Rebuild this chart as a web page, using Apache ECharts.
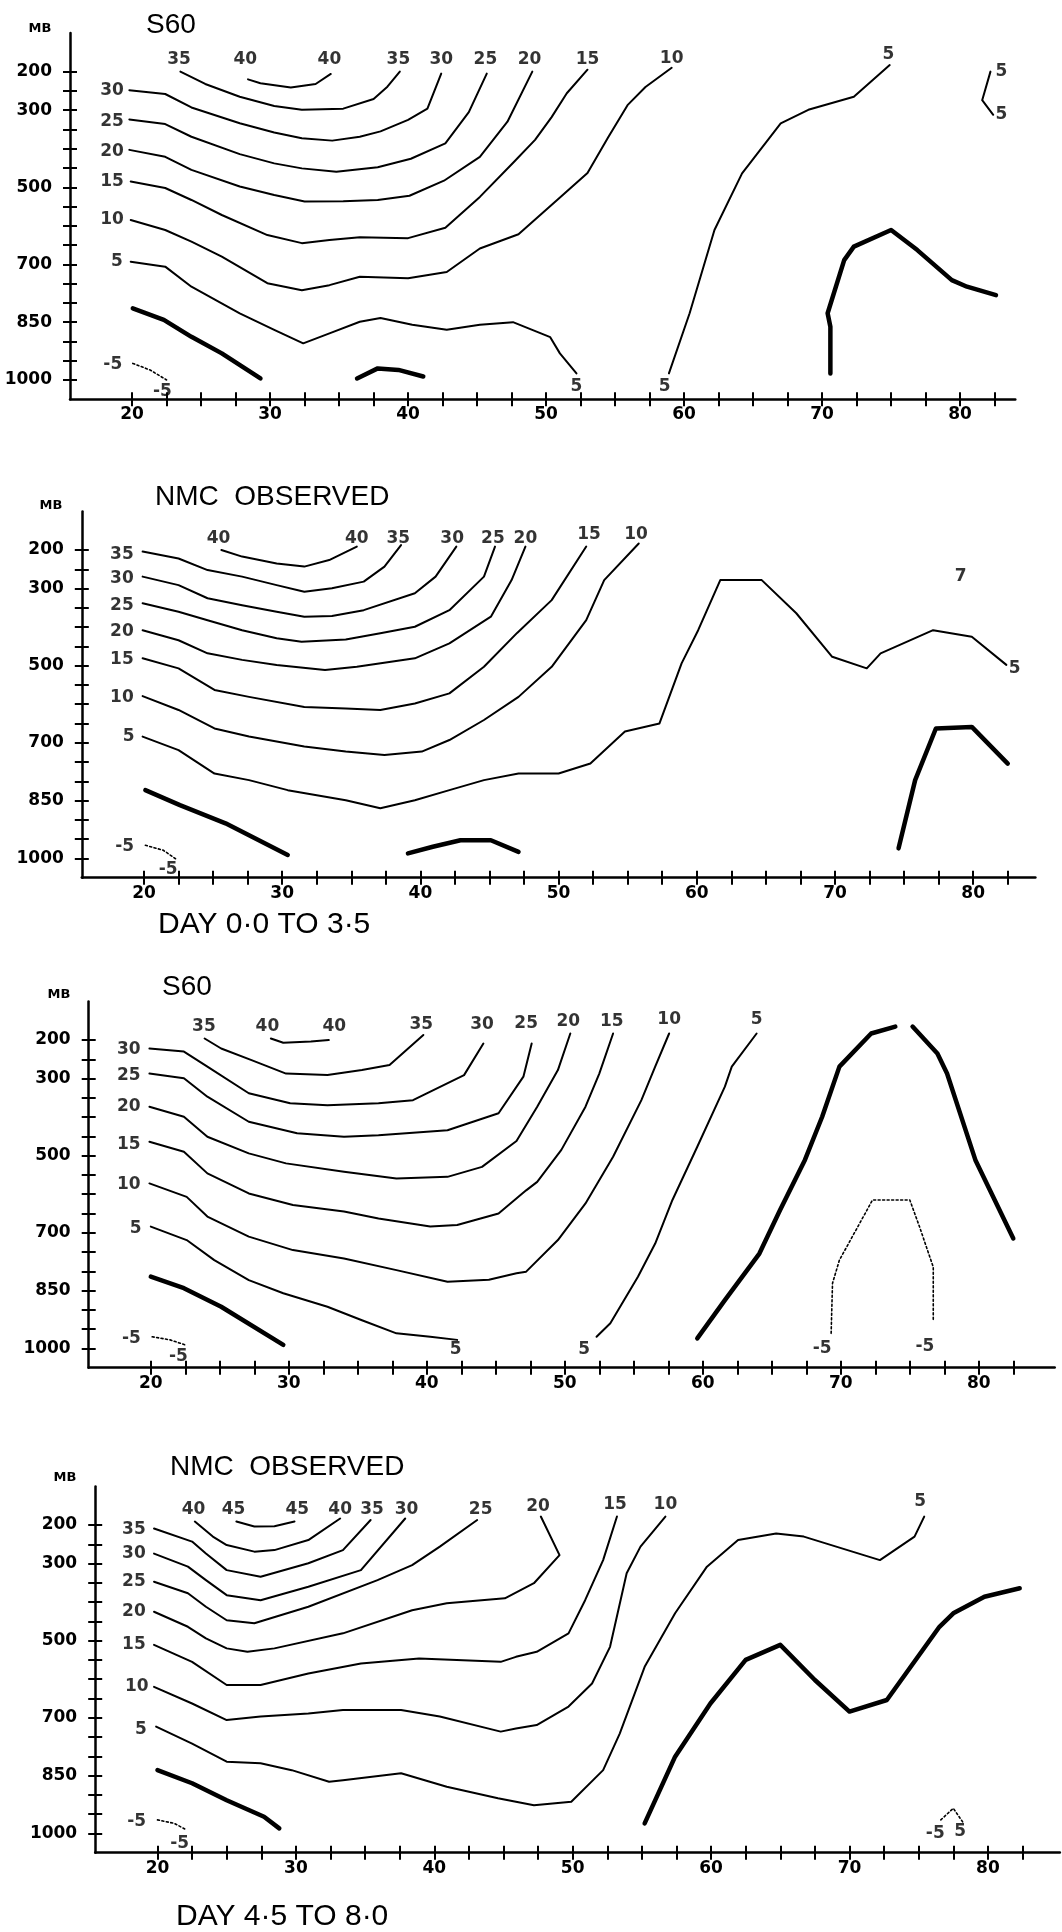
<!DOCTYPE html>
<html><head><meta charset="utf-8">
<script src="https://cdn.jsdelivr.net/npm/echarts@6/dist/echarts.min.js"></script>
<style>html,body{margin:0;padding:0;background:#fff}#c{width:1062px;height:1932px}</style>
</head><body><div id="c"></div>
<script>
// ---------- axis ticks and labels ----------
const latLabels = [20, 30, 40, 50, 60, 70, 80];
const latTicks = [20, 22.5, 25, 27.5, 30, 32.5, 35, 37.5, 40, 42.5, 45, 47.5, 50, 52.5, 55, 57.5, 60, 62.5, 65, 67.5, 70, 72.5, 75, 77.5, 80, 82.5];
const presLabels = [200, 300, 500, 700, 850, 1000];
const presTicks = [200, 250, 300, 350, 400, 450, 500, 550, 600, 650, 700, 750, 800, 850, 900, 950, 1000];

// ---------- Panel 1 : S60, day 0.0-3.5  (lat, mb) ----------
const p1_c40 = [[28.4,220],[29.3,230],[31.5,241],[33.3,232],[34.4,206]];
const p1_c35 = [[23.5,200],[25.3,232],[27.8,265],[30.3,289],[32.3,299],[35.3,296],[37.5,271],[38.5,239],[39.4,200]];
const p1_c30 = [[19.8,248],[22.4,258],[24.3,293],[27.8,334],[30.3,358],[32.3,373],[34.5,379],[36.5,369],[38.0,355],[40.0,325],[41.4,296],[42.4,205]];
const p1_c25 = [[19.8,324],[22.4,336],[24.3,369],[27.8,414],[30.3,438],[32.3,451],[34.8,460],[37.8,448],[40.2,426],[42.7,386],[44.4,305],[45.7,205]];
const p1_c20 = [[19.8,403],[22.4,421],[24.3,455],[27.8,498],[30.3,520],[32.5,537],[35.3,536],[37.8,533],[40.1,522],[42.6,483],[45.2,421],[47.2,330],[49.0,200]];
const p1_c15 = [[19.9,485],[22.4,502],[24.3,533],[26.5,572],[29.8,624],[32.3,645],[34.3,637],[36.5,630],[40.0,632],[42.7,605],[45.2,525],[47.7,433],[49.2,377],[50.4,318],[51.5,256],[53.0,195]];
const p1_c10 = [[19.9,585],[22.4,611],[24.3,641],[26.5,680],[29.8,749],[32.3,767],[34.3,754],[36.5,732],[40.0,736],[42.8,720],[45.2,659],[48.0,622],[50.8,533],[53.0,463],[54.5,370],[55.9,287],[57.2,240],[59.1,190]];
const p1_c5a = [[19.9,693],[22.4,706],[24.3,758],[27.8,827],[30.3,870],[32.4,905],[34.3,879],[36.5,849],[38.0,839],[40.3,857],[42.8,870],[45.2,857],[47.6,850],[50.3,889],[51.0,931],[52.2,983]];
const p1_c5b = [[58.9,983],[60.4,827],[62.2,611],[64.2,464],[67.0,334],[69.0,299],[72.3,265],[74.9,183]];
const p1_c5c = [[82.2,200],[81.6,274],[82.4,312]];
const p1_z1 = [[20.05,814],[22.3,844],[24.3,888],[26.5,931],[29.3,996]];
const p1_z2 = [[36.3,996],[37.8,970],[39.3,974],[41.1,991]];
const p1_z3 = [[70.6,983],[70.6,862],[70.4,827],[71.6,689],[72.3,654],[75.0,611],[76.9,663],[79.4,741],[80.5,758],[82.6,780]];
const p1_n1 = [[20.05,957],[21.3,974],[22.5,1000]];
const p1_labels = [
  [18.55,248,'30'],[18.55,330,'25'],[18.55,408,'20'],[18.55,485,'15'],[18.55,585,'10'],[18.9,693,'5'],
  [18.6,961,'-5'],[22.2,1030,'-5'],
  [23.4,170,'35'],[28.2,170,'40'],[34.3,170,'40'],[39.3,170,'35'],[42.4,170,'30'],[45.6,170,'25'],
  [48.8,170,'20'],[53.0,170,'15'],[59.1,165,'10'],[74.8,155,'5'],[83.0,200,'5'],[83.0,312,'5'],
  [52.2,1017,'5'],[58.6,1017,'5']
];

// ---------- Panel 2 : NMC observed, day 0.0-3.5 ----------
const p2_c40 = [[25.6,200],[27.1,217],[29.6,235],[31.6,243],[33.4,226],[35.4,191]];
const p2_c35 = [[19.9,204],[22.5,222],[24.6,252],[27.1,269],[29.6,291],[31.6,308],[33.6,299],[35.9,282],[37.4,243],[38.6,187]];
const p2_c30 = [[19.9,269],[22.5,291],[24.6,325],[27.1,343],[29.6,360],[31.6,373],[33.6,371],[35.9,356],[39.6,312],[41.1,269],[42.6,191]];
const p2_c25 = [[19.9,338],[22.5,360],[24.6,382],[27.1,408],[29.6,429],[31.4,438],[34.6,432],[37.1,416],[39.6,399],[42.1,356],[44.6,269],[45.4,191]];
const p2_c20 = [[19.9,408],[22.5,434],[24.6,468],[27.1,485],[29.6,498],[33.1,511],[35.4,503],[39.6,481],[42.1,442],[45.1,373],[46.6,278],[47.6,191]];
const p2_c15 = [[19.9,481],[22.5,507],[25.1,563],[27.6,581],[31.6,607],[34.6,611],[37.1,615],[39.6,598],[42.1,572],[44.6,503],[47.0,415],[49.5,330],[52.0,191]];
const p2_c10 = [[19.9,579],[22.5,615],[25.1,663],[27.6,684],[31.6,710],[34.6,723],[37.4,732],[40.1,723],[42.1,693],[44.6,641],[47.1,581],[49.5,503],[52.0,382],[53.3,278],[55.8,183]];
const p2_c5 = [[19.9,684],[22.5,719],[25.1,780],[27.6,797],[30.4,823],[34.6,849],[37.1,870],[39.6,849],[42.1,823],[44.6,797],[47.1,780],[50.0,780],[52.3,754],[54.8,671],[57.3,650],[58.9,494],[60.1,408],[61.7,278],[64.7,278],[67.2,364],[69.8,477],[72.3,507],[73.3,468],[77.1,408],[79.9,425],[82.4,498]];
const p2_z1 = [[20.1,823],[22.6,862],[25.9,909],[30.4,991]];
const p2_z2 = [[39.1,987],[40.9,970],[42.9,953],[45.1,953],[47.1,983]];
const p2_z3 = [[74.6,974],[75.8,797],[77.3,663],[79.9,659],[82.5,754]];
const p2_n1 = [[20.1,966],[21.4,979],[22.4,1004]];
const p2_labels = [
  [18.4,213,'35'],[18.4,274,'30'],[18.4,343,'25'],[18.4,412,'20'],[18.4,485,'15'],[18.4,583,'10'],[18.9,684,'5'],
  [18.6,970,'-5'],[21.75,1030,'-5'],
  [25.4,170,'40'],[35.4,170,'40'],[38.4,170,'35'],[42.3,170,'30'],[45.25,170,'25'],[47.6,170,'20'],
  [52.2,161,'15'],[55.6,161,'10'],[79.1,269,'7'],[83.0,507,'5']
];

// ---------- Panel 3 : S60, day 4.5-8.0 ----------
const p3_c40 = [[28.7,196],[29.6,207],[31.6,204],[32.9,200]];
const p3_c35 = [[23.9,196],[25.1,222],[27.3,252],[29.8,287],[32.8,291],[35.3,278],[37.3,265],[39.75,187]];
const p3_c30 = [[19.9,222],[22.4,230],[24.1,269],[27.1,338],[30.1,364],[32.8,369],[36.5,364],[39.0,356],[42.7,291],[44.1,209]];
const p3_c25 = [[19.9,287],[22.4,299],[24.1,347],[27.1,412],[30.6,442],[34.0,451],[36.5,447],[41.5,434],[45.2,390],[47.0,295],[47.6,209]];
const p3_c20 = [[19.9,373],[22.4,399],[24.1,451],[27.1,494],[29.8,520],[34.0,542],[37.8,559],[41.5,555],[44.0,529],[46.5,462],[48.0,373],[49.5,278],[50.4,183]];
const p3_c15 = [[19.9,464],[22.4,490],[24.1,546],[27.1,598],[30.3,628],[34.0,645],[36.5,663],[40.25,684],[42.2,680],[45.2,650],[47.2,590],[48.0,568],[49.75,485],[51.5,373],[52.5,287],[53.5,183]];
const p3_c10 = [[19.9,572],[22.6,607],[24.1,658],[27.1,710],[30.3,745],[34.0,767],[37.8,797],[41.5,827],[44.5,822],[46.5,805],[47.2,801],[49.5,719],[51.5,624],[53.5,503],[55.55,356],[56.55,269],[57.56,183]];
const p3_c5a = [[20.0,684],[22.6,719],[24.6,771],[27.1,823],[29.6,857],[32.8,892],[35.3,927],[37.8,961],[40.25,970],[42.2,978]];
const p3_c5b = [[52.3,970],[53.3,935],[55.3,814],[56.55,728],[57.8,615],[59.6,477],[61.6,321],[62.1,269],[63.9,183]];
const p3_z1 = [[20.0,814],[22.4,844],[25.1,892],[29.6,991]];
const p3_z2 = [[59.6,974],[61.6,875],[64.1,754],[65.6,641],[67.4,511],[68.65,399],[69.9,269],[72.2,183],[73.95,165]];
const p3_z3 = [[75.2,165],[77.0,235],[77.7,287],[79.75,511],[82.5,715]];
const p3_n1 = [[20.1,970],[21.4,978],[22.5,991]];
const p3_n2 = [[69.3,961],[69.4,831],[69.9,771],[72.3,615],[75.0,615],[75.7,684],[76.7,789],[76.7,927]];
const p3_labels = [
  [18.4,226,'30'],[18.4,291,'25'],[18.4,373,'20'],[18.4,472,'15'],[18.4,576,'10'],[18.9,689,'5'],
  [18.6,974,'-5'],[22.0,1022,'-5'],
  [23.85,165,'35'],[28.45,165,'40'],[33.3,165,'40'],[39.6,161,'35'],[44.0,161,'30'],[47.2,157,'25'],
  [50.25,152,'20'],[53.4,152,'15'],[57.56,148,'10'],[63.9,148,'5'],
  [42.1,1004,'5'],[51.4,1004,'5'],[68.65,1000,'-5'],[76.1,996,'-5']
];

// ---------- Panel 4 : NMC observed, day 4.5-8.0 ----------
const p4_c45 = [[25.7,191],[27.0,204],[28.45,203],[29.9,191]];
const p4_c40 = [[22.7,191],[24.0,230],[25.0,252],[27.0,269],[28.45,265],[30.9,239],[33.2,183]];
const p4_c35 = [[19.75,209],[22.5,243],[23.5,274],[25.0,317],[27.45,334],[30.9,299],[33.4,265],[35.4,187]];
const p4_c30 = [[19.75,274],[22.2,308],[23.5,343],[25.0,382],[27.45,395],[30.9,360],[34.7,317],[37.9,183]];
const p4_c25 = [[19.75,347],[22.2,377],[23.5,412],[25.0,447],[27.0,455],[30.9,412],[35.9,343],[38.4,304],[40.4,256],[43.1,187]];
const p4_c20 = [[19.75,425],[22.2,464],[23.5,494],[25.0,520],[26.5,529],[28.45,520],[33.4,481],[38.4,421],[40.9,403],[45.1,390],[47.2,351],[49.05,278],[47.7,178]];
const p4_c15 = [[19.75,511],[22.5,555],[25.0,615],[27.45,615],[30.9,585],[34.7,559],[38.9,546],[44.8,555],[45.9,542],[47.4,529],[49.7,481],[50.9,395],[52.2,291],[53.2,178]];
const p4_c10 = [[19.75,620],[22.5,663],[25.0,706],[27.45,697],[30.9,689],[33.4,680],[37.6,680],[40.4,697],[44.8,736],[45.9,728],[47.4,719],[49.7,671],[51.4,611],[52.7,516],[53.9,325],[54.9,256],[56.7,178]];
const p4_c5 = [[19.9,723],[22.5,767],[25.0,814],[27.45,818],[29.7,836],[32.4,866],[33.4,862],[37.6,844],[40.9,879],[44.6,909],[45.9,918],[47.2,927],[49.9,918],[52.2,836],[53.4,741],[55.2,568],[57.4,429],[59.7,308],[61.95,239],[64.7,222],[66.7,230],[72.2,291],[74.7,230],[75.4,178]];
const p4_z1 = [[20.0,836],[22.5,870],[25.0,914],[27.7,957],[28.8,987]];
const p4_z2 = [[55.2,974],[57.4,801],[59.95,663],[62.5,550],[65.0,511],[67.5,602],[70.0,684],[72.7,654],[76.5,464],[77.5,429],[79.75,386],[82.3,364]];
const p4_n1 = [[20.0,965],[21.2,974],[22.1,991]];
const p4_n2 = [[76.6,965],[77.5,935],[78.25,974]];
const p4_labels = [
  [18.3,213,'35'],[18.3,274,'30'],[18.3,347,'25'],[18.3,425,'20'],[18.3,511,'15'],[18.5,620,'10'],[18.8,732,'5'],
  [18.5,970,'-5'],[21.6,1026,'-5'],
  [22.6,161,'40'],[25.5,161,'45'],[30.1,161,'45'],[33.2,161,'40'],[35.5,161,'35'],[38.0,161,'30'],
  [43.35,161,'25'],[47.5,152,'20'],[53.06,148,'15'],[56.7,148,'10'],[75.1,139,'5'],
  [76.2,1000,'-5'],[78.0,996,'5']
];

// ---------- panel composition ----------
const panels = [
  { thin:[p1_c40,p1_c35,p1_c30,p1_c25,p1_c20,p1_c15,p1_c10,p1_c5a,p1_c5b,p1_c5c], thick:[p1_z1,p1_z2,p1_z3], dotted:[p1_n1], labels:p1_labels },
  { thin:[p2_c40,p2_c35,p2_c30,p2_c25,p2_c20,p2_c15,p2_c10,p2_c5], thick:[p2_z1,p2_z2,p2_z3], dotted:[p2_n1], labels:p2_labels },
  { thin:[p3_c40,p3_c35,p3_c30,p3_c25,p3_c20,p3_c15,p3_c10,p3_c5a,p3_c5b], thick:[p3_z1,p3_z2,p3_z3], dotted:[p3_n1,p3_n2], labels:p3_labels },
  { thin:[p4_c45,p4_c40,p4_c35,p4_c30,p4_c25,p4_c20,p4_c15,p4_c10,p4_c5], thick:[p4_z1,p4_z2], dotted:[p4_n1,p4_n2], labels:p4_labels }
];

// ---------- layout (pixels) ----------
const XMIN = 15.5, YMIN = 100, YMAX = 1050, PX_PER_MB = 0.3854;
const layout = [
  { left:70.0, top:33.1,   xmax:84.0, pxDeg:13.80 },
  { left:81.8, top:511.5,  xmax:84.5, pxDeg:13.82 },
  { left:88.7, top:1001.5, xmax:85.5, pxDeg:13.80 },
  { left:95.2, top:1486.5, xmax:85.2, pxDeg:13.84 }
];
const TICK_FONT = '"DejaVu Sans", sans-serif';
const INK = '#000';
const plain = v => String(v);

const grid = [], xAxis = [], yAxis = [], series = [];
layout.forEach((L, i) => {
  grid.push({ left: L.left, top: L.top, width: (L.xmax - XMIN) * L.pxDeg, height: (YMAX - YMIN) * PX_PER_MB, containLabel: false });
});
// main axes (outer half of the cross ticks + labels)
layout.forEach((L, i) => {
  xAxis.push({ type:'value', gridIndex:i, min:XMIN, max:L.xmax, position:'bottom',
    splitLine:{show:false},
    axisLine:{show:true, onZero:false, lineStyle:{color:INK, width:2.5}},
    axisTick:{show:true, customValues:latTicks, length:7, lineStyle:{color:INK, width:2}},
    axisLabel:{show:true, customValues:latLabels, formatter:plain, margin:7, color:INK, fontFamily:TICK_FONT, fontSize:17, fontWeight:'bold'} });
  yAxis.push({ type:'value', gridIndex:i, min:YMIN, max:YMAX, inverse:true, position:'left',
    splitLine:{show:false},
    axisLine:{show:true, onZero:false, lineStyle:{color:INK, width:2.5}},
    axisTick:{show:true, customValues:presTicks, length:7, lineStyle:{color:INK, width:2}},
    axisLabel:{show:true, customValues:presLabels, formatter:plain, margin:18, color:INK, fontFamily:TICK_FONT, fontSize:17, fontWeight:'bold'} });
});
// inner halves of the cross ticks
layout.forEach((L, i) => {
  xAxis.push({ type:'value', gridIndex:i, min:XMIN, max:L.xmax, position:'bottom',
    splitLine:{show:false}, axisLine:{show:false}, axisLabel:{show:false},
    axisTick:{show:true, inside:true, customValues:latTicks, length:7, lineStyle:{color:INK, width:2}} });
  yAxis.push({ type:'value', gridIndex:i, min:YMIN, max:YMAX, inverse:true, position:'left',
    splitLine:{show:false}, axisLine:{show:false}, axisLabel:{show:false},
    axisTick:{show:true, inside:true, customValues:presTicks, length:7, lineStyle:{color:INK, width:2}} });
});

function addLine(data, i, kind) {
  const width = kind === 'thick' ? 4.5 : (kind === 'dotted' ? 1.6 : 2);
  series.push({ type:'line', xAxisIndex:i, yAxisIndex:i, data:data, symbol:'none', showSymbol:false,
    smooth:false, silent:true, clip:false, z:3,
    lineStyle:{ color:INK, width:width, type: kind === 'dotted' ? [2, 2.5] : 'solid', cap:'round', join:'round' } });
}
panels.forEach((P, i) => {
  P.thin.forEach(d => addLine(d, i, 'thin'));
  P.thick.forEach(d => addLine(d, i, 'thick'));
  P.dotted.forEach(d => addLine(d, i, 'dotted'));
  series.push({ type:'scatter', xAxisIndex:i, yAxisIndex:i, symbolSize:0, silent:true, z:4, clip:false,
    data: P.labels.map(d => ({ value:[d[0], d[1]], name:d[2] })),
    label:{ show:true, position:'inside', formatter:'{b}', color:INK, fontFamily:TICK_FONT, fontSize:17, fontWeight:'bold' } });
});

// ---------- free texts ----------
const TITLE_FONT = '"Liberation Sans", Arial, sans-serif';
function txt(x, y, text, font, align) {
  return { type:'text', x:x, y:y, silent:true, z:10,
    style:{ text:text, font:font, fill:INK, textAlign:align || 'left', textVerticalAlign:'middle' } };
}
const graphic = [
  txt(40, 29, 'MB', 'bold 13px ' + TICK_FONT, 'center'),
  txt(51, 506, 'MB', 'bold 13px ' + TICK_FONT, 'center'),
  txt(59, 995, 'MB', 'bold 13px ' + TICK_FONT, 'center'),
  txt(65, 1478, 'MB', 'bold 13px ' + TICK_FONT, 'center'),
  txt(146, 25, 'S60', '28px ' + TITLE_FONT),
  txt(155, 497, 'NMC  OBSERVED', '28px ' + TITLE_FONT),
  txt(158, 925, 'DAY 0\u00B70 TO 3\u00B75', '30px ' + TITLE_FONT),
  txt(162, 987, 'S60', '28px ' + TITLE_FONT),
  txt(170, 1467, 'NMC  OBSERVED', '28px ' + TITLE_FONT),
  txt(176, 1917, 'DAY 4\u00B75 TO 8\u00B70', '30px ' + TITLE_FONT)
];

const chart = echarts.init(document.getElementById('c'), null, { renderer:'canvas', width:1062, height:1932 });
chart.setOption({
  backgroundColor:'#ffffff',
  animation:false,
  grid, xAxis, yAxis, series, graphic
});
</script>
</body></html>
